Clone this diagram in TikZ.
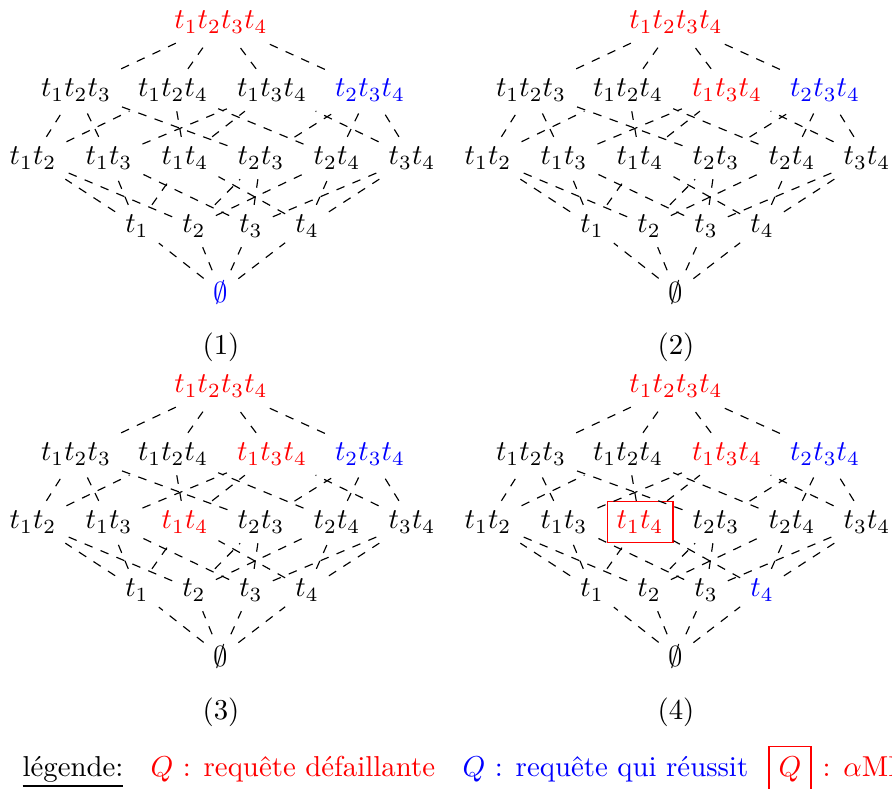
\documentclass[tikz,border=0pt]{standalone}
\usepackage{fontspec}
\tikzset{
  edge/.style={dashed, line width=0.4pt},
  lbl/.style={},
}
\newcommand\lattice[7]{%
\begin{scope}[shift={(#1,#2)}]
  \node[red] (#3-1234) at (221,22) {$t_1t_2t_3t_4$};
  \node (#3-123) at (76,90) {$t_1t_2t_3$};
  \node (#3-124) at (173,90) {$t_1t_2t_4$};
  \node[#4] (#3-134) at (272,90) {$t_1t_3t_4$};
  \node[blue] (#3-234) at (370,90) {$t_2t_3t_4$};
  \node (#3-12) at (33,158) {$t_1t_2$};
  \node (#3-13) at (109,158) {$t_1t_3$};
  \node[#5] (#3-14) at (185,158) {$t_1t_4$};
  \node (#3-23) at (261,158) {$t_2t_3$};
  \node (#3-24) at (337,158) {$t_2t_4$};
  \node (#3-34) at (412,158) {$t_3t_4$};
  \node (#3-1) at (137,226) {$t_1$};
  \node (#3-2) at (194,226) {$t_2$};
  \node (#3-3) at (251,226) {$t_3$};
  \node[#6] (#3-4) at (307,226) {$t_4$};
  \node[#7] (#3-0) at (221,292) {$\emptyset$};
  \foreach \a/\b in {123/1234,124/1234,134/1234,234/1234,
    12/123,12/124,13/123,13/134,14/124,14/134,
    23/123,23/234,24/124,24/234,34/134,34/234,
    1/12,1/13,1/14,2/12,2/23,2/24,3/13,3/23,3/34,4/14,4/24,4/34,
    0/1,0/2,0/3,0/4}
    \draw[edge] (#3-\a) -- (#3-\b);
\end{scope}}
\begin{document}
\begin{tikzpicture}[x=0.3472pt, y=-0.3472pt]
  \clip (0,0) rectangle (892,788);
  \lattice{0}{0}{a}{black}{black}{black}{blue}
  \lattice{455}{0}{b}{red}{black}{black}{black}
  \lattice{0}{364}{c}{red}{red}{black}{black}
  \lattice{455}{364}{d}{red}{red,draw=red}{blue}{black}
  \node (l1) at (221,347) {(1)};
  \node (l2) at (676,347) {(2)};
  \node (l3) at (221,712) {(3)};
  \node (l4) at (676,712) {(4)};
  \node[anchor=base west, inner sep=0] (leg) at (22,776) {\underline{légende:}};
  \node[anchor=base west, inner sep=0, red] (legr) at (150,776) {$Q$ : requête défaillante};
  \node[anchor=base west, inner sep=0, blue] (legb) at (462,776) {$Q$ : requête qui réussit};
  \node[draw=red, red, anchor=base] (legq) at (790,776) {$Q$};
  \node[anchor=base west, inner sep=0, red] (legm) at (822,776) {: $\alpha$MFS};
\end{tikzpicture}
\end{document}
